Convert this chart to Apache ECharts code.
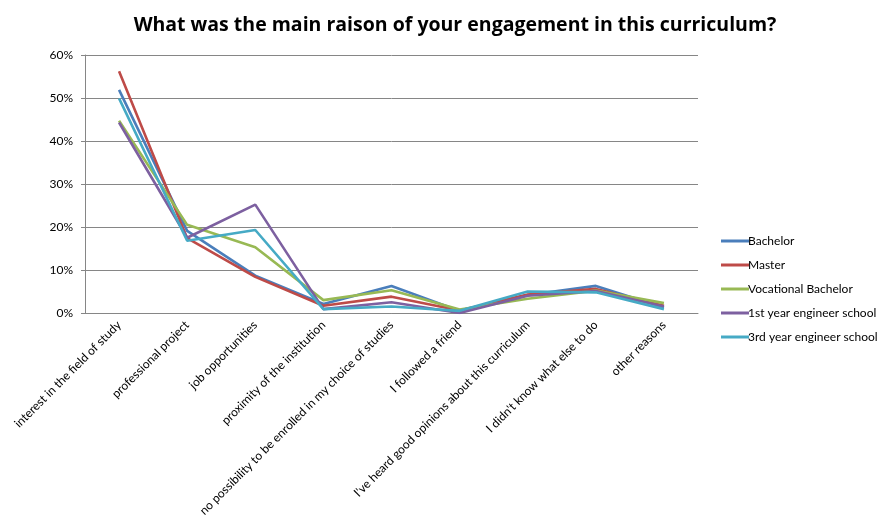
<!DOCTYPE html>
<html>
<head>
<meta charset="utf-8">
<script src="https://cdn.jsdelivr.net/npm/echarts@6/dist/echarts.min.js"></script>
<style>html,body{margin:0;padding:0;background:#fff;}#c{width:883px;height:526px;}</style>
</head>
<body>
<div id="c"></div>
<script>
const categories = [
  "interest in the field of study",
  "professional project",
  "job opportunities",
  "proximity of the institution",
  "no possibility to be enrolled in my choice of studies",
  "I followed a friend",
  "I've heard good opinions about this curriculum",
  "I didn't know what else to do",
  "other reasons"
];
const seriesNames = ["Bachelor", "Master", "Vocational Bachelor", "1st year engineer school", "3rd year engineer school"];
const bachelor   = [51.9, 19.1, 8.7, 2.1, 6.3, 0.5, 4.2, 6.3, 1.3];
const master     = [56.2, 17.4, 8.4, 1.7, 3.8, 0.6, 4.3, 5.6, 1.7];
const vocational = [44.7, 20.5, 15.3, 3.0, 5.3, 0.8, 3.3, 5.2, 2.3];
const firstYear  = [44.3, 17.5, 25.2, 0.9, 2.5, 0.0, 4.0, 5.1, 1.5];
const thirdYear  = [49.9, 16.8, 19.3, 0.9, 1.5, 0.5, 5.0, 4.8, 0.9];
const yTicks = [0, 10, 20, 30, 40, 50, 60];

const colors = ["#4A7EBB", "#BE4B48", "#98B954", "#7D60A0", "#46AAC5"];
const allData = [bachelor, master, vocational, firstYear, thirdYear];
const font = "Lato, 'Liberation Sans', sans-serif";

const chart = echarts.init(document.getElementById('c'));
chart.setOption({
  animation: false,
  title: {
    text: "What was the main raison of your engagement in this curriculum?",
    left: 450, top: 10, textAlign: 'center',
    textStyle: { fontFamily: "'Open Sans', sans-serif", fontWeight: 'bold', fontSize: 19.5, color: '#000' }
  },
  legend: {
    orient: 'vertical', left: 716, top: 229,
    itemWidth: 28, itemHeight: 3, itemGap: 10,
    icon: 'rect',
    data: seriesNames,
    textStyle: { fontFamily: font, fontSize: 12, color: '#000', padding: [0,0,0,-6], height: 14, lineHeight: 14 }
  },
  grid: { left: 85, right: 185, top: 55, bottom: 213 },
  xAxis: {
    type: 'category', data: categories, boundaryGap: true,
    axisLine: { lineStyle: { color: '#868686', width: 1 } },
    axisTick: { show: false },
    axisLabel: { rotate: 45, interval: 0, fontFamily: font, fontSize: 12, color: '#000', margin: 10 }
  },
  yAxis: {
    type: 'value', min: yTicks[0], max: yTicks[yTicks.length - 1], interval: 10,
    axisLine: { show: true, lineStyle: { color: '#868686' } },
    axisTick: { show: true, length: 4, lineStyle: { color: '#868686' } },
    splitLine: { lineStyle: { color: '#868686', width: 1 } },
    axisLabel: { formatter: v => v + '%', fontFamily: font, fontSize: 12, color: '#000', margin: 12 }
  },
  series: allData.map((d, i) => ({
    name: seriesNames[i], type: 'line', data: d,
    symbol: 'none', lineStyle: { width: 2.6, color: colors[i] },
    itemStyle: { color: colors[i] }
  }))
});
</script>
</body>
</html>
